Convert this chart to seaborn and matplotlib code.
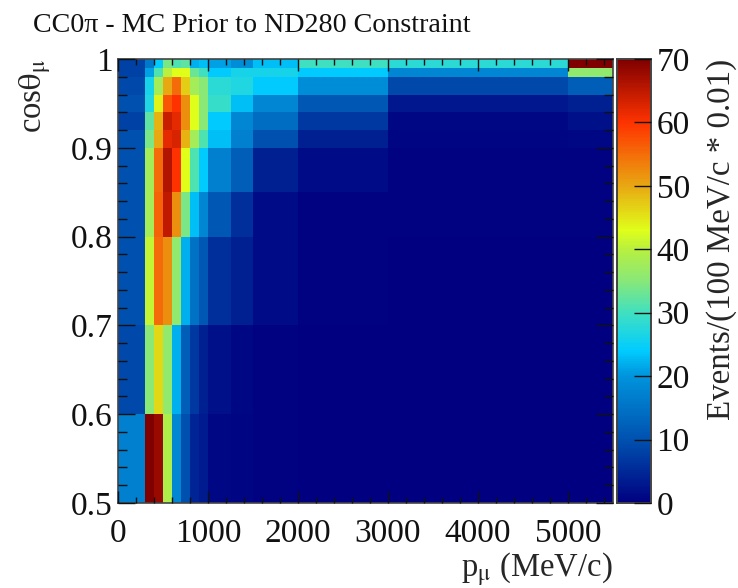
import numpy as np
import pandas as pd
import matplotlib
matplotlib.use("Agg")
import matplotlib.pyplot as plt
from matplotlib.colors import LinearSegmentedColormap
import seaborn as sns

# Bin edges of the analysis
p_edges = [0, 300, 400, 500, 600, 700, 800, 900, 1000, 1250, 1500, 2000, 3000, 5000, 5500]
cos_edges = [1.0, 0.99, 0.98, 0.96, 0.94, 0.92, 0.90, 0.85, 0.80, 0.70, 0.60, 0.50]

# Events per bin, top row (cos = 1) first
row_99_100 = [8, 16, 24, 34, 31, 32, 22, 23, 21, 19, 23, 30, 28, 75]
row_98_99 = [8, 21, 31, 40, 43, 43, 33, 30, 24, 26, 26, 24, 18, 36]
row_96_98 = [9, 26, 38, 50, 55, 47, 38, 35, 28, 27, 24, 19, 9, 12]
row_94_96 = [10, 27, 44, 57, 60, 52, 43, 35, 29, 23, 18, 11, 3, 4]
row_92_94 = [8, 32, 49, 64, 62, 52, 43, 35, 24, 18, 14, 7, 1, 2]
row_90_92 = [10, 34, 50, 62, 63, 49, 38, 31, 23, 17, 10, 4, 0.7, 1]
row_85_90 = [10, 38, 55, 66, 60, 43, 31, 24, 17, 12, 4, 1.5, 0.5, 0.5]
row_80_85 = [10, 38, 56, 65, 52, 34, 23, 18, 11, 6, 1.5, 0.5, 0.3, 0.3]
row_70_80 = [10, 41, 55, 52, 36, 22, 15, 11, 6, 4, 1.5, 0.5, 0.2, 0.2]
row_60_70 = [9, 35, 46, 36, 22, 12, 7, 4, 2, 1, 0.5, 0.2, 0.1, 0.1]
row_50_60 = [17, 72, 68, 39, 18, 10, 4.5, 3.5, 1, 0.7, 0.3, 0.1, 0.1, 0.1]

rows = [row_99_100, row_98_99, row_96_98, row_94_96, row_92_94, row_90_92,
        row_85_90, row_80_85, row_70_80, row_60_70, row_50_60]

colores = [(0, "#000080"), (10 / 70, "#0052B0"), (20 / 70, "#0094DC"), (24 / 70, "#00CCFF"),
           (30 / 70, "#40E0C0"), (35 / 70, "#88E878"), (40 / 70, "#B8F040"), (43 / 70, "#DFFF1A"),
           (50 / 70, "#E8A812"), (60 / 70, "#FF3300"), (1, "#800000")]
paleta = LinearSegmentedColormap.from_list("t2k", colores, N=256)

# seaborn heatmap only has equal cells: repeat bins on a 50 MeV x 0.01 grid
dp = np.diff(p_edges) // 50
dc = np.round(-np.diff(cos_edges) / 0.01).astype(int)
tabla = pd.DataFrame(np.repeat(np.repeat(np.array(rows), dc, axis=0), dp, axis=1))

sns.set_theme(style="ticks")
plt.rcParams["font.family"] = ["Liberation Serif", "DejaVu Serif"]
plt.rcParams["mathtext.fontset"] = "stix"
plt.rcParams["text.color"] = "#111111"

W, H = 738, 588
fig = plt.figure(figsize=(W / 100, H / 100), dpi=100)
ax = fig.add_axes([118 / W, 1 - 503 / H, 495 / W, 444 / H])
cax = fig.add_axes([616.5 / W, 1 - 503 / H, 34.5 / W, 444 / H])

sns.heatmap(tabla, ax=ax, cbar_ax=cax, cmap=paleta, vmin=0, vmax=70,
            xticklabels=False, yticklabels=False, cbar_kws={"ticks": list(range(0, 80, 10))})

x_mayor = np.arange(0, 5001, 1000)
x_menor = np.arange(0, 5401, 200)
y_mayor = np.array([1.0, 0.9, 0.8, 0.7, 0.6, 0.5])
y_menor = np.arange(0.5, 1.001, 0.02)

# ticks go over the cells, like in ROOT
ax.set_axisbelow(False)
cax.set_axisbelow(False)

ax.set_xticks(x_mayor / 50, [str(v) for v in x_mayor])
ax.set_xticks(x_menor / 50, minor=True)
ax.set_yticks((1 - y_mayor) / 0.01, ["1", "0.9", "0.8", "0.7", "0.6", "0.5"])
ax.set_yticks((1 - y_menor) / 0.01, minor=True)
ax.tick_params(axis="x", which="major", direction="in", top=True, length=8.5, width=1, labelsize=24, pad=11, color="#111111", labelcolor="#111111")
ax.tick_params(axis="x", which="minor", direction="in", top=True, length=4.5, width=1, color="#111111")
ax.tick_params(axis="y", which="major", direction="in", right=True, length=12, width=1, labelsize=24, pad=4, color="#111111", labelcolor="#111111", labelrotation=0)
ax.tick_params(axis="y", which="minor", direction="in", right=True, length=6.5, width=1, color="#111111")
for s in ax.spines.values():
    s.set_visible(True)
    s.set_linewidth(1.2)
    s.set_color("#444444")

ax.set_xlabel(r"p$_{\mathrm{\mu}}$ (MeV/c)", loc="right", fontsize=23.5, labelpad=1)
ax.set_ylabel(r"cos$\mathrm{\theta}_{\mathrm{\mu}}$", loc="top", fontsize=23.5, labelpad=13)

cax.tick_params(axis="y", direction="in", right=True, length=12, width=1, labelsize=24, pad=4, color="#111111", labelcolor="#111111")
for s in cax.spines.values():
    s.set_visible(True)
    s.set_linewidth(1.2)
    s.set_color("#444444")
cax.set_ylabel("Events/(100 MeV/c * 0.01)", loc="top", fontsize=23.8, labelpad=12)

fig.text(33 / W, 1 - 32 / H, "CC0π - MC Prior to ND280 Constraint", fontsize=20.2, color="#111111", va="baseline")

fig.savefig("out.png", dpi=100, facecolor="white")
